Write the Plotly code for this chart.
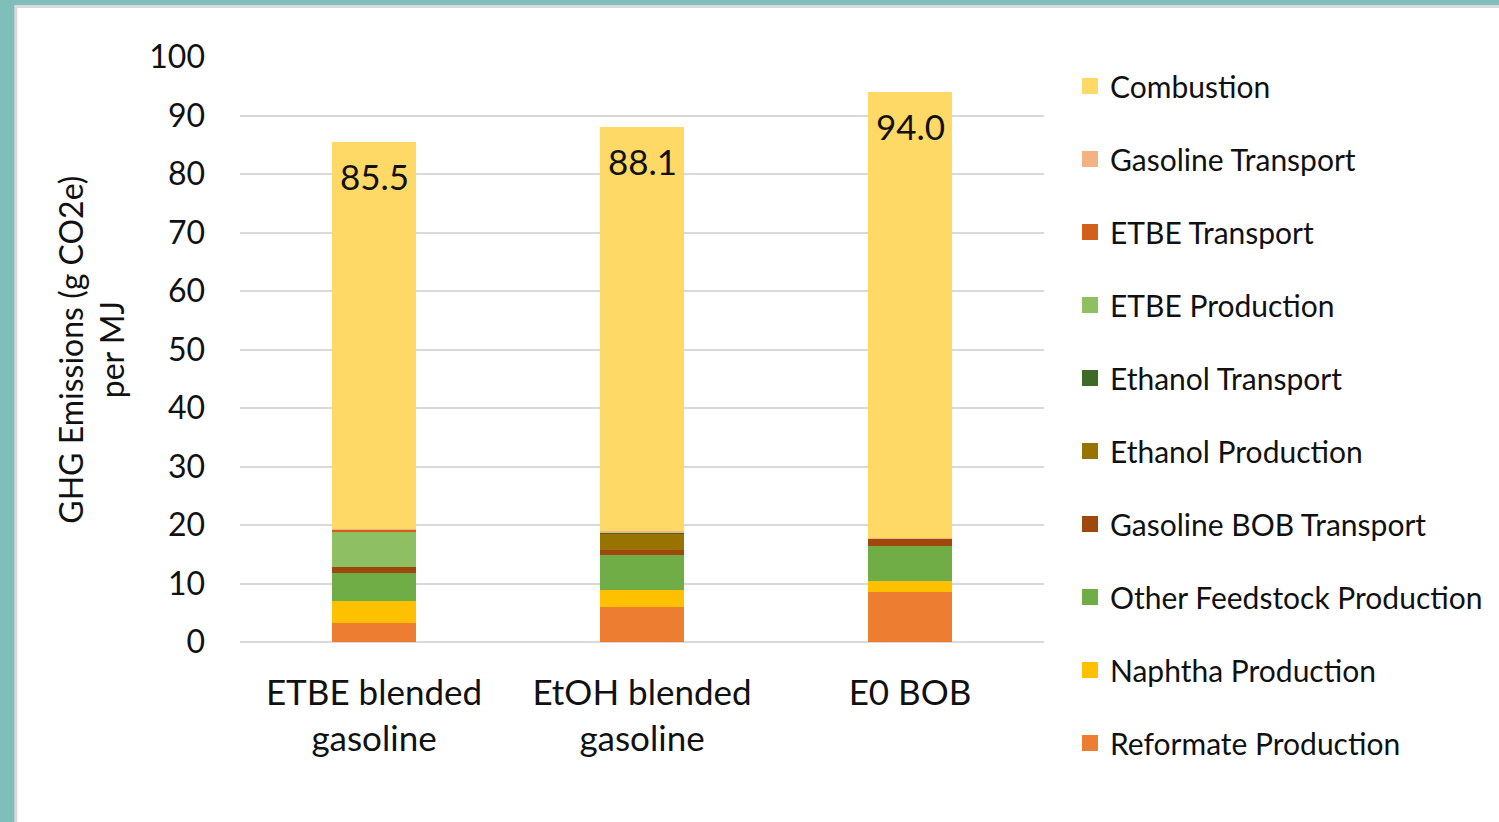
import plotly.graph_objects as go

# Fuel pathways shown along the x axis
categories = ["ETBE blended<br>gasoline", "EtOH blended<br>gasoline", "E0 BOB"]

# Life-cycle GHG contributions, g CO2e per MJ (bottom of the stack first)
reformate_production = [3.2, 5.9, 8.6]
naphtha_production = [3.8, 3.0, 1.8]
other_feedstock_production = [4.8, 5.9, 6.0]
gasoline_bob_transport = [1.1, 1.0, 1.3]
ethanol_production = [0.0, 2.8, 0.0]
ethanol_transport = [0.0, 0.2, 0.0]
etbe_production = [5.9, 0.0, 0.0]
etbe_transport = [0.5, 0.0, 0.0]
gasoline_transport = [0.1, 0.1, 0.1]
combustion = [66.1, 69.2, 76.2]

y_ticks = [0, 10, 20, 30, 40, 50, 60, 70, 80, 90, 100]

series = [
    ("Reformate Production", reformate_production, "#ED7D31"),
    ("Naphtha Production", naphtha_production, "#FFC000"),
    ("Other Feedstock Production", other_feedstock_production, "#70AD47"),
    ("Gasoline BOB Transport", gasoline_bob_transport, "#9E480E"),
    ("Ethanol Production", ethanol_production, "#997300"),
    ("Ethanol Transport", ethanol_transport, "#3D6B27"),
    ("ETBE Production", etbe_production, "#8FBF63"),
    ("ETBE Transport", etbe_transport, "#D0601A"),
    ("Gasoline Transport", gasoline_transport, "#F4B183"),
    ("Combustion", combustion, "#FFD966"),
]

FONT = "Lato, 'Open Sans', sans-serif"
W, H = 1499, 822
ML, MR, MT, MB = 240, 454, 57, 180
PW, PH = W - ML - MR, H - MT - MB


def px_x(px):
    return (px - ML) / PW


def px_y(py):
    return (H - MB - py) / PH


fig = go.Figure()

for name, vals, color in series:
    fig.add_trace(go.Bar(
        x=categories, y=vals, name=name,
        marker=dict(color=color, line=dict(width=0)),
        showlegend=False, hoverinfo="name+y",
    ))

# Legend entries (square swatches), top to bottom
for i, (name, vals, color) in enumerate(reversed(series)):
    fig.add_trace(go.Scatter(
        x=[None], y=[None], mode="markers", name=name,
        marker=dict(symbol="square", size=16, color=color),
        legendgroup=f"g{i}", showlegend=True,
    ))

# Totals written near the top of each stack
totals = [round(sum(s[1][k] for s in series), 1) for k in range(len(categories))]
for cat, tot in zip(categories, totals):
    fig.add_annotation(
        x=cat, y=tot, xref="x", yref="y", text=f"{tot:.1f}",
        showarrow=False, yanchor="middle", yshift=-34,
        font=dict(family=FONT, size=35, color="#111111"),
    )

# Y axis title
fig.add_annotation(
    x=px_x(91), y=0.5, xref="paper", yref="paper",
    text="GHG Emissions (g CO2e)<br>per MJ", textangle=-90,
    showarrow=False, xanchor="center", yanchor="middle",
    font=dict(family=FONT, size=32, color="#111111"),
)

# Frame: teal page edge, thin grey rule, white panel
fig.add_shape(type="rect", xref="paper", yref="paper", layer="below",
              x0=px_x(14), x1=px_x(W + 5), y0=px_y(H + 5), y1=px_y(5),
              fillcolor="#D9D9D9", line=dict(width=0))
fig.add_shape(type="rect", xref="paper", yref="paper", layer="below",
              x0=px_x(17), x1=px_x(W + 5), y0=px_y(H + 5), y1=px_y(8),
              fillcolor="#FFFFFF", line=dict(width=0))

fig.update_layout(
    width=W, height=H,
    margin=dict(l=ML, r=MR, t=MT, b=MB),
    paper_bgcolor="#7FBFB9",
    plot_bgcolor="rgba(0,0,0,0)",
    barmode="stack",
    bargap=0.687,
    font=dict(family=FONT, color="#111111"),
    xaxis=dict(
        showgrid=False, zeroline=False, showline=False,
        tickfont=dict(family=FONT, size=35, color="#111111"),
        ticklabelstandoff=27,
    ),
    yaxis=dict(
        range=[0, 100], tickvals=y_ticks,
        showgrid=True, gridcolor="#D9D9D9", gridwidth=2,
        zeroline=True, zerolinecolor="#D9D9D9", zerolinewidth=2,
        showline=False,
        tickfont=dict(family=FONT, size=32, color="#111111"),
        ticklabelstandoff=34,
    ),
    legend=dict(
        x=px_x(1070), xanchor="left", y=px_y(60), yanchor="top",
        traceorder="grouped", tracegroupgap=31,
        font=dict(family=FONT, size=30, color="#111111"),
        bgcolor="rgba(0,0,0,0)", itemsizing="trace",
        maxheight=780,
    ),
    showlegend=True,
)

fig.write_html("out.html")
